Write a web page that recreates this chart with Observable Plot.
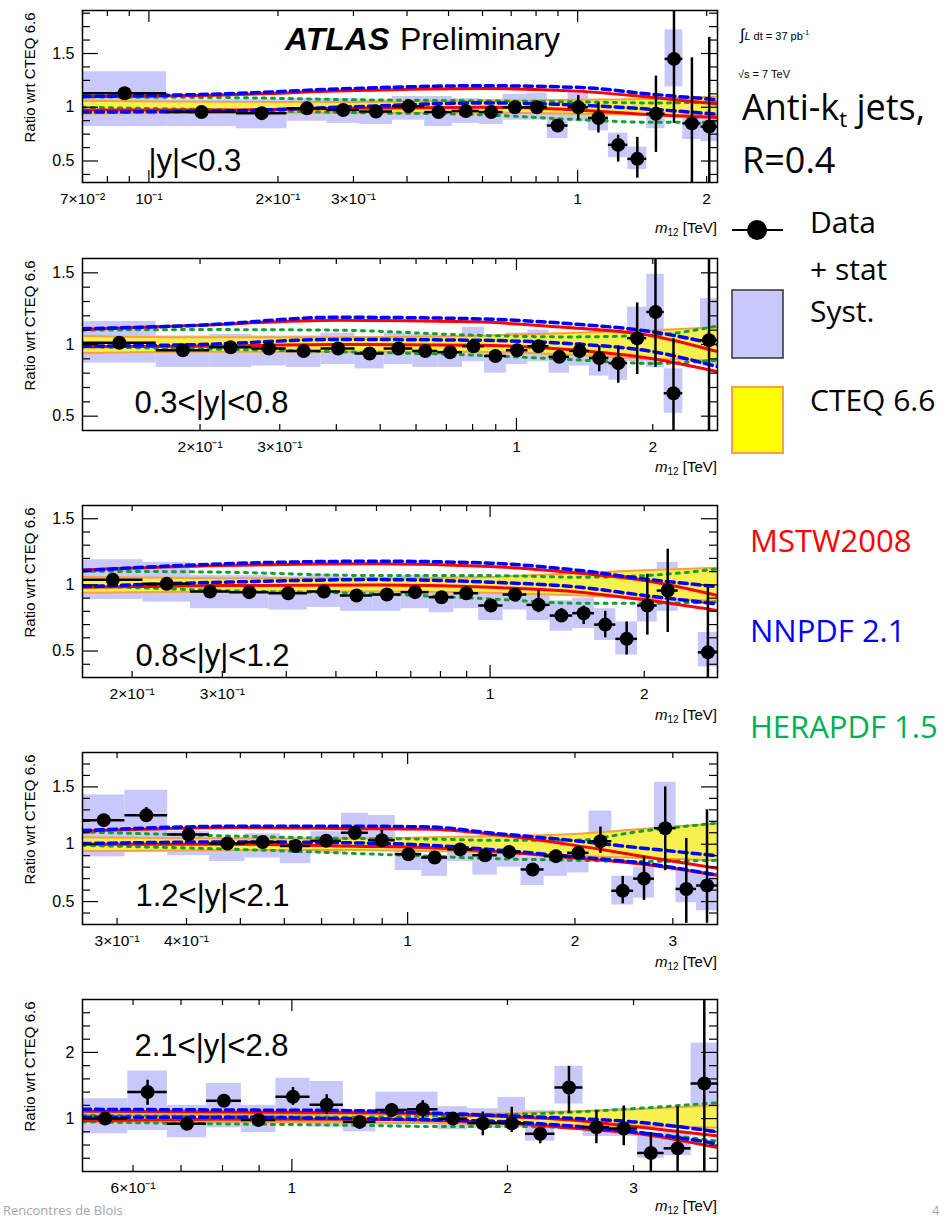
<!DOCTYPE html>
<html>
<head>
<meta charset="utf-8">
<script src="https://cdn.jsdelivr.net/npm/d3@7"></script>
<script src="https://cdn.jsdelivr.net/npm/@observablehq/plot@0.6"></script>
<style>
  html, body { margin: 0; padding: 0; background: #fff; }
  body { width: 949px; height: 1220px; overflow: hidden; position: relative; font-family: "Liberation Sans", Arial, sans-serif; }
  .panel { position: absolute; left: 0; }
  #overlay { position: absolute; left: 0; top: 0; pointer-events: none; }
</style>
</head>
<body>
<div id="panels"></div>
<svg id="overlay" width="949" height="1220" font-family="Liberation Sans, Arial, sans-serif">
  <text x="285" y="50" font-size="32" font-weight="bold" font-style="italic">ATLAS</text>
  <text x="400" y="50" font-size="32">Preliminary</text>
  <text x="740" y="40" font-size="11"><tspan font-size="16">∫</tspan><tspan font-style="italic">L</tspan> dt = 37 pb<tspan font-size="7" dy="-5">-1</tspan></text>
  <text x="738" y="78" font-size="11">√s = 7 TeV</text>
  <g font-family="Open Sans, Lato, sans-serif">
    <text x="742" y="120" font-size="36">Anti-k<tspan font-size="22" dy="7">t</tspan><tspan dy="-7"> jets,</tspan></text>
    <text x="742" y="173" font-size="36">R=0.4</text>
    <line x1="732" x2="783" y1="230" y2="230" stroke="black" stroke-width="2"/>
    <circle cx="757" cy="230" r="10" fill="black"/>
    <text x="810" y="233" font-size="30">Data</text>
    <text x="810" y="280" font-size="30">+ stat</text>
    <rect x="732" y="290" width="51" height="68" fill="#c8c8fa" stroke="#333" stroke-width="1.5"/>
    <text x="810" y="322" font-size="30">Syst.</text>
    <rect x="732" y="387" width="51" height="66" fill="#ffff00" stroke="#f5a04a" stroke-width="2"/>
    <text x="810" y="411" font-size="30">CTEQ 6.6</text>
    <text x="750" y="552" font-size="31" fill="#ff0000">MSTW2008</text>
    <text x="750" y="642" font-size="31" fill="#0000ff">NNPDF 2.1</text>
    <text x="750" y="738" font-size="31" fill="#00b050">HERAPDF 1.5</text>
    <text x="3" y="1215" font-size="13" fill="#a6a6a6">Rencontres de Blois</text>
    <text x="932" y="1215" font-size="13" fill="#a6a6a6">4</text>
  </g>
  <g font-size="15" text-anchor="end">
    <text x="717" y="233"><tspan font-style="italic">m</tspan><tspan font-size="10" dy="3">12</tspan><tspan dy="-3"> [TeV]</tspan></text>
    <text x="717" y="472"><tspan font-style="italic">m</tspan><tspan font-size="10" dy="3">12</tspan><tspan dy="-3"> [TeV]</tspan></text>
    <text x="717" y="720"><tspan font-style="italic">m</tspan><tspan font-size="10" dy="3">12</tspan><tspan dy="-3"> [TeV]</tspan></text>
    <text x="717" y="967"><tspan font-style="italic">m</tspan><tspan font-size="10" dy="3">12</tspan><tspan dy="-3"> [TeV]</tspan></text>
    <text x="717" y="1211"><tspan font-style="italic">m</tspan><tspan font-size="10" dy="3">12</tspan><tspan dy="-3"> [TeV]</tspan></text>
  </g>
</svg>
<script>
// ---------------- DATA ----------------
// dijet mass bin edges (TeV)
const massEdges = [0.07, 0.11, 0.16, 0.21, 0.26, 0.31, 0.37, 0.44, 0.51, 0.59, 0.67, 0.76, 0.85, 0.95, 1.06, 1.18, 1.31, 1.45, 1.60, 1.76, 1.94, 2.12, 2.33, 2.55, 2.78, 3.04, 3.31, 3.61, 3.93];

const rapidityLabels = ["|y|<0.3", "0.3<|y|<0.8", "0.8<|y|<1.2", "1.2<|y|<2.1", "2.1<|y|<2.8"];
const xTickText = {0.07: "7×10⁻²", 0.1: "10⁻¹", 0.2: "2×10⁻¹", 0.3: "3×10⁻¹", 0.4: "4×10⁻¹", 0.6: "6×10⁻¹", 1: "1", 2: "2", 3: "3"};

// Panel 1 : |y|<0.3
const p1Val    = [1.13, 0.955, 0.945, 0.99, 0.975, 0.96, 1.01, 0.955, 0.965, 0.955, 1.0, 1.0, 0.83, 1.0, 0.90, 0.65, 0.52, 0.94, 1.45, 0.85, 0.82];
const p1StatLo = [1.10, 0.94, 0.93, 0.975, 0.96, 0.945, 0.995, 0.94, 0.95, 0.94, 0.98, 0.98, 0.78, 0.88, 0.76, 0.49, 0.34, 0.58, 0.85, 0.30, 0.28];
const p1StatHi = [1.17, 0.97, 0.96, 1.005, 0.99, 0.975, 1.025, 0.97, 0.98, 0.97, 1.02, 1.03, 0.88, 1.11, 1.04, 0.74, 0.72, 1.29, 1.95, 1.46, 1.65];
const p1SysLo  = [0.82, 0.82, 0.80, 0.87, 0.85, 0.84, 0.88, 0.82, 0.85, 0.84, 0.88, 0.88, 0.71, 0.87, 0.78, 0.53, 0.42, 0.80, 1.19, 0.70, 0.68];
const p1SysHi  = [1.33, 1.07, 1.07, 1.08, 1.08, 1.07, 1.10, 1.10, 1.08, 1.07, 1.12, 1.13, 0.94, 1.14, 1.02, 0.76, 0.63, 1.07, 1.72, 1.07, 1.07];
const p1Nodes  = [0.07, 0.15, 0.3, 0.6, 1.0, 1.5, 2.12];
const p1CteqLo = [0.94, 0.95, 0.95, 0.95, 0.94, 0.93, 0.92];
const p1CteqHi = [1.06, 1.05, 1.05, 1.06, 1.07, 1.08, 1.10];
const p1MstwLo = [0.975, 0.975, 0.99, 1.0, 0.975, 0.93, 0.905];
const p1MstwHi = [1.10, 1.115, 1.155, 1.175, 1.15, 1.09, 1.03];
const p1NnLo   = [0.955, 0.965, 1.005, 1.04, 1.02, 0.98, 0.935];
const p1NnHi   = [1.10, 1.125, 1.175, 1.20, 1.185, 1.12, 1.07];
const p1HeraLo = [1.0, 0.975, 0.95, 0.93, 0.885, 0.86, 0.862];
const p1HeraHi = [1.095, 1.09, 1.07, 1.06, 1.05, 1.04, 1.05];

// Panel 2 : 0.3<|y|<0.8
const p2Val    = [1.012, 0.96, 0.98, 0.972, 0.954, 0.972, 0.937, 0.972, 0.955, 0.946, 0.988, 0.92, 0.96, 0.988, 0.914, 0.955, 0.905, 0.87, 1.044, 1.227, 0.66, null, 1.03];
const p2StatLo = [0.99, 0.945, 0.965, 0.957, 0.94, 0.957, 0.92, 0.955, 0.94, 0.93, 0.97, 0.90, 0.94, 0.96, 0.87, 0.90, 0.81, 0.73, 0.79, 0.84, 0.40, null, 0.30];
const p2StatHi = [1.03, 0.975, 0.995, 0.987, 0.97, 0.987, 0.955, 0.99, 0.97, 0.96, 1.01, 0.94, 0.98, 1.03, 0.96, 1.01, 0.99, 0.99, 1.29, 1.70, 1.04, null, 1.70];
const p2SysLo  = [0.87, 0.84, 0.84, 0.85, 0.84, 0.86, 0.83, 0.86, 0.84, 0.84, 0.88, 0.80, 0.86, 0.88, 0.80, 0.85, 0.78, 0.75, 0.88, 0.84, 0.52, null, 0.85];
const p2SysHi  = [1.16, 1.06, 1.07, 1.06, 1.06, 1.08, 1.05, 1.08, 1.07, 1.06, 1.12, 1.02, 1.08, 1.10, 1.02, 1.07, 1.00, 0.99, 1.26, 1.49, 0.83, null, 1.32];
const p2Nodes  = [0.11, 0.2, 0.4, 0.8, 1.3, 2.0, 2.78];
const p2CteqLo = [0.94, 0.95, 0.95, 0.95, 0.93, 0.90, 0.89];
const p2CteqHi = [1.06, 1.05, 1.05, 1.06, 1.08, 1.10, 1.12];
const p2MstwLo = [0.984, 0.988, 1.0, 0.995, 0.965, 0.90, 0.81];
const p2MstwHi = [1.104, 1.135, 1.17, 1.158, 1.118, 1.06, 0.95];
const p2NnLo   = [0.988, 1.0, 1.035, 1.03, 1.007, 0.95, 0.845];
const p2NnHi   = [1.11, 1.135, 1.19, 1.18, 1.146, 1.088, 1.00];
const p2HeraLo = [0.984, 0.97, 0.95, 0.926, 0.896, 0.868, 0.89];
const p2HeraHi = [1.10, 1.104, 1.10, 1.065, 1.053, 1.065, 1.13];

// Panel 3 : 0.8<|y|<1.2
const p3Val    = [1.038, 1.008, 0.95, 0.945, 0.937, 0.95, 0.92, 0.927, 0.945, 0.907, 0.937, 0.844, 0.927, 0.849, 0.768, 0.786, 0.70, 0.592, 0.844, 0.957, null, 0.49];
const p3StatLo = [1.02, 0.99, 0.93, 0.925, 0.92, 0.93, 0.90, 0.91, 0.925, 0.89, 0.915, 0.82, 0.90, 0.79, 0.72, 0.70, 0.60, 0.47, 0.62, 0.64, null, 0.29];
const p3StatHi = [1.06, 1.025, 0.97, 0.965, 0.955, 0.97, 0.94, 0.945, 0.965, 0.925, 0.96, 0.87, 0.955, 0.955, 0.82, 0.84, 0.80, 0.72, 1.08, 1.27, null, 0.98];
const p3SysLo  = [0.89, 0.87, 0.82, 0.82, 0.81, 0.83, 0.80, 0.80, 0.82, 0.79, 0.82, 0.73, 0.81, 0.73, 0.65, 0.67, 0.58, 0.47, 0.72, 0.80, null, 0.38];
const p3SysHi  = [1.19, 1.17, 1.07, 1.07, 1.06, 1.08, 1.04, 1.05, 1.07, 1.02, 1.06, 0.96, 1.04, 0.96, 0.88, 0.90, 0.82, 0.72, 1.02, 1.17, null, 0.64];
const p3Nodes  = [0.16, 0.3, 0.6, 1.0, 1.5, 2.0, 2.78];
const p3CteqLo = [0.94, 0.95, 0.95, 0.94, 0.92, 0.90, 0.88];
const p3CteqHi = [1.06, 1.05, 1.05, 1.06, 1.09, 1.11, 1.13];
const p3MstwLo = [0.982, 0.995, 1.0, 0.982, 0.945, 0.887, 0.806];
const p3MstwHi = [1.113, 1.146, 1.159, 1.139, 1.088, 1.033, 0.92];
const p3NnLo   = [0.987, 1.02, 1.04, 1.02, 0.982, 0.92, 0.856];
const p3NnHi   = [1.108, 1.159, 1.179, 1.164, 1.108, 1.045, 0.987];
const p3HeraLo = [0.995, 0.957, 0.932, 0.894, 0.861, 0.861, 0.869];
const p3HeraHi = [1.103, 1.096, 1.07, 1.07, 1.058, 1.07, 1.12];

// Panel 4 : 1.2<|y|<2.1
const p4Val    = [1.21, 1.252, 1.084, 1.006, 1.02, 0.985, 1.03, 1.10, 1.035, 0.913, 0.884, 0.955, 0.904, 0.933, 0.78, 0.896, 0.925, 1.026, 0.594, 0.70, 1.14, 0.61, 0.64];
const p4StatLo = [1.16, 1.19, 1.06, 0.985, 0.995, 0.96, 1.0, 1.04, 0.97, 0.89, 0.86, 0.93, 0.86, 0.90, 0.75, 0.85, 0.88, 0.92, 0.48, 0.51, 0.77, 0.31, 0.31];
const p4StatHi = [1.25, 1.32, 1.11, 1.03, 1.045, 1.01, 1.06, 1.16, 1.12, 0.94, 0.91, 0.98, 0.95, 0.97, 0.81, 0.95, 0.98, 1.15, 0.72, 0.89, 1.50, 1.05, 1.30];
const p4SysLo  = [0.89, 0.93, 0.90, 0.85, 0.88, 0.83, 0.92, 1.03, 0.98, 0.77, 0.72, 0.85, 0.73, 0.80, 0.64, 0.72, 0.75, 0.92, 0.47, 0.53, 0.92, 0.49, 0.42];
const p4SysHi  = [1.43, 1.47, 1.11, 1.06, 1.09, 1.05, 1.11, 1.27, 1.25, 0.98, 0.90, 1.03, 0.95, 0.96, 0.89, 0.95, 1.01, 1.29, 0.72, 0.80, 1.54, 0.77, 0.75];
const p4Nodes  = [0.26, 0.5, 0.8, 1.1, 1.4, 2.0, 2.6, 3.61];
const p4CteqLo = [0.94, 0.95, 0.95, 0.94, 0.93, 0.90, 0.88, 0.86];
const p4CteqHi = [1.06, 1.05, 1.05, 1.06, 1.07, 1.09, 1.13, 1.18];
const p4MstwLo = [1.0, 1.0, 0.983, 0.97, 0.94, 0.88, 0.83, 0.73];
const p4MstwHi = [1.113, 1.145, 1.136, 1.13, 1.09, 0.99, 0.90, 0.79];
const p4NnLo   = [1.006, 1.02, 1.012, 0.99, 0.955, 0.89, 0.84, 0.73];
const p4NnHi   = [1.12, 1.157, 1.157, 1.15, 1.10, 1.03, 0.97, 0.90];
const p4HeraLo = [0.99, 0.954, 0.92, 0.895, 0.875, 0.86, 0.85, 0.86];
const p4HeraHi = [1.107, 1.07, 1.05, 1.045, 1.035, 1.035, 1.11, 1.185];

// Panel 5 : 2.1<|y|<2.8
const p5Val    = [1.0, 1.40, 0.92, 1.27, 0.98, 1.33, 1.21, 0.95, 1.13, 1.14, 1.0, 0.93, 0.93, 0.77, 1.47, 0.87, 0.85, 0.48, 0.55, 1.53];
const p5StatLo = [0.95, 1.20, 0.87, 1.18, 0.92, 1.20, 1.06, 0.90, 1.05, 1.00, 0.92, 0.74, 0.79, 0.62, 1.08, 0.62, 0.59, 0.18, 0.18, 0.18];
const p5StatHi = [1.06, 1.58, 0.97, 1.36, 1.04, 1.47, 1.36, 1.00, 1.22, 1.27, 1.08, 1.10, 1.17, 0.87, 1.79, 1.12, 1.19, 0.79, 1.18, 2.90];
const p5SysLo  = [0.77, 0.82, 0.71, 0.86, 0.79, 0.92, 0.87, 0.80, 0.90, 0.92, 0.83, 0.85, 0.86, 0.66, 1.22, 0.73, 0.73, 0.40, 0.44, 0.97];
const p5SysHi  = [1.30, 1.72, 1.20, 1.53, 1.20, 1.61, 1.56, 1.13, 1.40, 1.40, 1.18, 1.15, 1.32, 1.12, 1.79, 1.12, 1.15, 0.75, 0.80, 2.14];
const p5Nodes  = [0.51, 0.8, 1.2, 1.6, 2.0, 2.5, 3.0, 3.93];
const p5CteqLo = [0.95, 0.95, 0.94, 0.93, 0.92, 0.90, 0.89, 0.86];
const p5CteqHi = [1.05, 1.05, 1.06, 1.07, 1.08, 1.11, 1.14, 1.20];
const p5MstwLo = [0.97, 0.99, 0.99, 0.97, 0.93, 0.85, 0.78, 0.56];
const p5MstwHi = [1.11, 1.10, 1.09, 1.07, 1.03, 0.97, 0.88, 0.74];
const p5NnLo   = [1.02, 1.02, 1.0, 0.98, 0.95, 0.88, 0.80, 0.62];
const p5NnHi   = [1.14, 1.13, 1.12, 1.08, 1.04, 1.00, 0.95, 0.80];
const p5HeraLo = [0.95, 0.92, 0.90, 0.88, 0.88, 0.86, 0.80, 0.66];
const p5HeraHi = [1.05, 1.03, 1.02, 1.04, 1.06, 1.10, 1.15, 1.24];

// ---------------- LAYOUT ----------------
const panels = [
  {first: 0, val: p1Val, statLo: p1StatLo, statHi: p1StatHi, sysLo: p1SysLo, sysHi: p1SysHi,
   nodes: p1Nodes, cteq: [p1CteqLo, p1CteqHi], mstw: [p1MstwLo, p1MstwHi], nn: [p1NnLo, p1NnHi], hera: [p1HeraLo, p1HeraHi],
   yDomain: [0.3, 1.9], yMajor: [0.5, 1, 1.5], yStep: 0.125, xLabels: [0.07, 0.1, 0.2, 0.3, 1, 2],
   top: 0, lab: {anchor: "bottom-left", dx: 66, dy: -12}},
  {first: 1, val: p2Val, statLo: p2StatLo, statHi: p2StatHi, sysLo: p2SysLo, sysHi: p2SysHi,
   nodes: p2Nodes, cteq: [p2CteqLo, p2CteqHi], mstw: [p2MstwLo, p2MstwHi], nn: [p2NnLo, p2NnHi], hera: [p2HeraLo, p2HeraHi],
   yDomain: [0.4, 1.6], yMajor: [0.5, 1, 1.5], yStep: 0.1, xLabels: [0.2, 0.3, 1, 2],
   top: 248, lab: {anchor: "bottom-left", dx: 52, dy: -18}},
  {first: 2, val: p3Val, statLo: p3StatLo, statHi: p3StatHi, sysLo: p3SysLo, sysHi: p3SysHi,
   nodes: p3Nodes, cteq: [p3CteqLo, p3CteqHi], mstw: [p3MstwLo, p3MstwHi], nn: [p3NnLo, p3NnHi], hera: [p3HeraLo, p3HeraHi],
   yDomain: [0.3, 1.6], yMajor: [0.5, 1, 1.5], yStep: 0.1, xLabels: [0.2, 0.3, 1, 2],
   top: 495, lab: {anchor: "bottom-left", dx: 53, dy: -12}},
  {first: 4, val: p4Val, statLo: p4StatLo, statHi: p4StatHi, sysLo: p4SysLo, sysHi: p4SysHi,
   nodes: p4Nodes, cteq: [p4CteqLo, p4CteqHi], mstw: [p4MstwLo, p4MstwHi], nn: [p4NnLo, p4NnHi], hera: [p4HeraLo, p4HeraHi],
   yDomain: [0.3, 1.8], yMajor: [0.5, 1, 1.5], yStep: 0.1, xLabels: [0.3, 0.4, 1, 2, 3],
   top: 742, lab: {anchor: "bottom-left", dx: 53, dy: -19}},
  {first: 8, val: p5Val, statLo: p5StatLo, statHi: p5StatHi, sysLo: p5SysLo, sysHi: p5SysHi,
   nodes: p5Nodes, cteq: [p5CteqLo, p5CteqHi], mstw: [p5MstwLo, p5MstwHi], nn: [p5NnLo, p5NnHi], hera: [p5HeraLo, p5HeraHi],
   yDomain: [0.2, 2.8], yMajor: [1, 2], yStep: 0.2, xLabels: [0.6, 1, 2, 3],
   top: 989, lab: {anchor: "top-left", dx: 52, dy: 56}}
];

const W = 730, H = 242, MT = 10, MB = 60, ML = 82, MR = 13;
const FW = W - ML - MR, FH = H - MT - MB;
const curve = "monotone-x";

function buildPanel(cfg, i) {
  const n = cfg.val.length;
  const xDom = [massEdges[cfg.first], massEdges[cfg.first + n]];
  const bins = [];
  cfg.val.forEach((v, j) => {
    if (v == null) return;
    const lo = massEdges[cfg.first + j], hi = massEdges[cfg.first + j + 1];
    bins.push({lo, hi, m: Math.sqrt(lo * hi), v, sLo: cfg.statLo[j], sHi: cfg.statHi[j], yLo: cfg.sysLo[j], yHi: cfg.sysHi[j]});
  });
  const th = cfg.nodes.map((x, j) => ({
    x, cLo: cfg.cteq[0][j], cHi: cfg.cteq[1][j], mLo: cfg.mstw[0][j], mHi: cfg.mstw[1][j],
    nLo: cfg.nn[0][j], nHi: cfg.nn[1][j], hLo: cfg.hera[0][j], hHi: cfg.hera[1][j]
  }));
  const allX = d3.scaleLog().domain(xDom).ticks();
  const isDecade = t => Math.abs(Math.log10(t) - Math.round(Math.log10(t))) < 1e-9;
  const decX = allX.filter(isDecade);
  const minX = allX.filter(t => !isDecade(t));
  const k0 = Math.ceil(cfg.yDomain[0] / cfg.yStep - 1e-9), k1 = Math.floor(cfg.yDomain[1] / cfg.yStep + 1e-9);
  const minY = d3.range(k0, k1 + 1).map(k => +(k * cfg.yStep).toFixed(4))
    .filter(t => !cfg.yMajor.some(M => Math.abs(M - t) < 1e-6) && t > cfg.yDomain[0] && t < cfg.yDomain[1]);

  const red = {stroke: "#ff0000", strokeWidth: 3, curve};
  const blue = {stroke: "#0000ff", strokeWidth: 3.5, strokeDasharray: "8,5", curve};
  const green = {stroke: "#10a030", strokeWidth: 3, strokeDasharray: "3,6", curve};
  const orange = {stroke: "#f7a23c", strokeWidth: 2, curve};

  return Plot.plot({
    width: W, height: H, marginTop: MT, marginBottom: MB, marginLeft: ML, marginRight: MR,
    x: {type: "log", domain: xDom},
    y: {domain: cfg.yDomain},
    style: {fontFamily: "Liberation Sans, Arial, sans-serif", color: "black", background: "transparent", overflow: "visible"},
    marks: [
      Plot.rect(bins, {x1: "lo", x2: "hi", y1: "yLo", y2: "yHi", fill: "#c8c8fa", clip: true}),
      Plot.areaY(th, {x: "x", y1: "cLo", y2: "cHi", fill: "#f7f150", curve}),
      Plot.line(th, {x: "x", y: "cLo", ...orange}),
      Plot.line(th, {x: "x", y: "cHi", ...orange}),
      Plot.line(th, {x: "x", y: "hLo", ...green, clip: true}),
      Plot.line(th, {x: "x", y: "hHi", ...green, clip: true}),
      Plot.line(th, {x: "x", y: "mLo", ...red, clip: true}),
      Plot.line(th, {x: "x", y: "mHi", ...red, clip: true}),
      Plot.line(th, {x: "x", y: "nLo", ...blue, clip: true}),
      Plot.line(th, {x: "x", y: "nHi", ...blue, clip: true}),
      Plot.ruleY(bins, {y: "v", x1: "lo", x2: "hi", stroke: "black", strokeWidth: 2.5, clip: true}),
      Plot.ruleX(bins, {x: "m", y1: "sLo", y2: "sHi", stroke: "black", strokeWidth: 2.5, clip: true}),
      Plot.dot(bins, {x: "m", y: "v", r: 7, fill: "black", clip: true}),
      // inward ticks (ROOT style)
      Plot.tickX(minX, {x: d => d, insetTop: FH - 6, strokeWidth: 1.2}),
      Plot.tickX(minX, {x: d => d, insetBottom: FH - 6, strokeWidth: 1.2}),
      Plot.tickX(decX, {x: d => d, insetTop: FH - 12, strokeWidth: 1.2}),
      Plot.tickX(decX, {x: d => d, insetBottom: FH - 12, strokeWidth: 1.2}),
      Plot.tickY(minY, {y: d => d, insetRight: FW - 8, strokeWidth: 1.2}),
      Plot.tickY(minY, {y: d => d, insetLeft: FW - 8, strokeWidth: 1.2}),
      Plot.tickY(cfg.yMajor, {y: d => d, insetRight: FW - 16, strokeWidth: 1.2}),
      Plot.tickY(cfg.yMajor, {y: d => d, insetLeft: FW - 16, strokeWidth: 1.2}),
      Plot.frame({stroke: "black", strokeWidth: 1.5}),
      Plot.axisX({ticks: cfg.xLabels, tickFormat: d => xTickText[d], tickSize: 0, tickPadding: 10, fontSize: 15.5, label: null}),
      Plot.axisY({ticks: cfg.yMajor, tickFormat: d => String(d), tickSize: 0, tickPadding: 8, fontSize: 16, label: null}),
      Plot.text(["Ratio wrt CTEQ 6.6"], {text: d => d, frameAnchor: "top-left", rotate: -90, textAnchor: "end", lineAnchor: "middle", dx: -52, dy: 2, fontSize: 15}),
      Plot.text([rapidityLabels[i]], {text: d => d, frameAnchor: cfg.lab.anchor, textAnchor: "start", lineAnchor: "bottom", dx: cfg.lab.dx, dy: cfg.lab.dy, fontSize: 31})
    ]
  });
}

const host = document.getElementById("panels");
panels.forEach((cfg, i) => {
  const div = document.createElement("div");
  div.className = "panel";
  div.style.top = cfg.top + "px";
  div.appendChild(buildPanel(cfg, i));
  host.appendChild(div);
});
</script>
</body>
</html>
